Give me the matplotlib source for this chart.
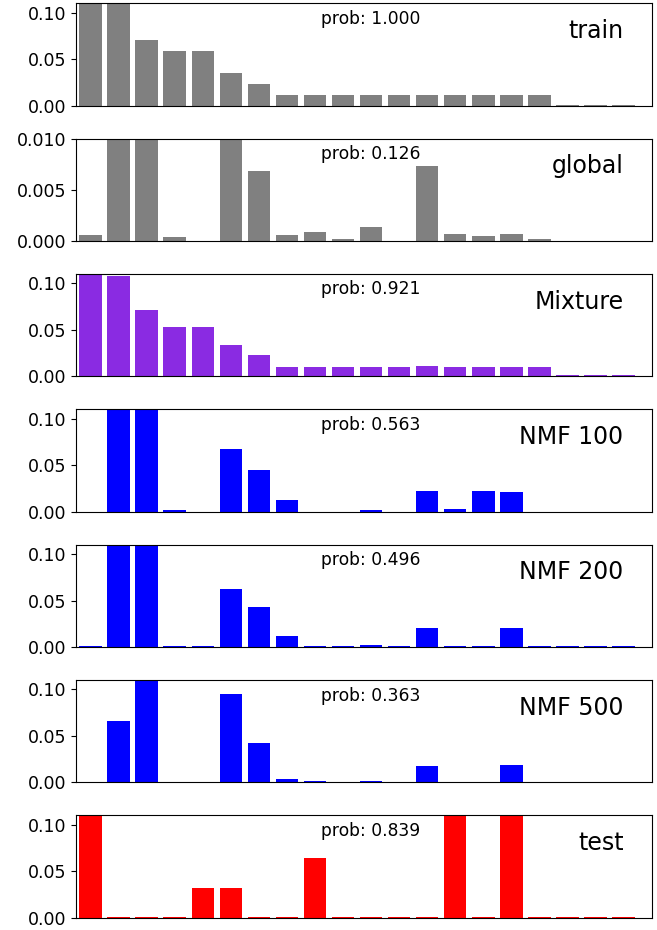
import matplotlib
matplotlib.use("Agg")
import matplotlib.pyplot as plt
import numpy as np

# 20 categories per panel
positions = np.arange(20)

train = [0.35, 0.28, 0.0702, 0.0585, 0.0585, 0.0351, 0.0234, 0.0117, 0.0117, 0.0117,
         0.0117, 0.0117, 0.0117, 0.0117, 0.0117, 0.0117, 0.0117, 0.0006, 0.0006, 0.0006]
global_ = [0.00058, 0.05, 0.04, 0.00039, 0.0, 0.03, 0.0068, 0.00058, 0.00087, 0.0002,
           0.00136, 0.0, 0.00728, 0.00068, 0.00049, 0.00068, 0.0002, 0.0, 0.0, 0.0]
mixture = [0.30, 0.1079, 0.0714, 0.0532, 0.0532, 0.0339, 0.0225, 0.0104, 0.0104, 0.0104,
           0.0104, 0.0104, 0.0114, 0.0104, 0.0104, 0.0104, 0.0104, 0.0009, 0.0009, 0.0009]
nmf100 = [0.0, 0.22, 0.24, 0.0014, 0.0, 0.0674, 0.045, 0.012, 0.0, 0.0,
          0.0014, 0.0, 0.0227, 0.0025, 0.0227, 0.0216, 0.0, 0.0, 0.0, 0.0]
nmf200 = [0.0008, 0.23, 0.25, 0.0008, 0.0008, 0.0625, 0.0432, 0.0121, 0.0008, 0.0008,
          0.0025, 0.0008, 0.0207, 0.0008, 0.0008, 0.0207, 0.0008, 0.0008, 0.0008, 0.0008]
nmf500 = [0.0, 0.0655, 0.28, 0.0, 0.0, 0.0954, 0.042, 0.0036, 0.0014, 0.0,
          0.0014, 0.0, 0.0174, 0.0, 0.0, 0.0185, 0.0, 0.0, 0.0, 0.0]
test = [0.2903, 0.0008, 0.0008, 0.0008, 0.0323, 0.0323, 0.0008, 0.0008, 0.0645, 0.0008,
        0.0008, 0.0008, 0.0008, 0.1613, 0.0008, 0.2581, 0.0008, 0.0008, 0.0008, 0.0008]

series = [train, global_, mixture, nmf100, nmf200, nmf500, test]
names = ["train", "global", "Mixture", "NMF 100", "NMF 200", "NMF 500", "test"]
probs = [1.000, 0.126, 0.921, 0.563, 0.496, 0.363, 0.839]
colors = ["gray", "gray", "blueviolet", "blue", "blue", "blue", "red"]

fig, axes = plt.subplots(7, 1, figsize=(6.57, 9.30), dpi=100)
fig.subplots_adjust(left=0.1164, right=0.9919, top=0.9965, bottom=0.0132, hspace=0.3236)

for ax, vals, name, p, c in zip(axes, series, names, probs, colors):
    ax.bar(positions, vals, width=0.8, color=c)
    ax.set_xlim(-0.5, 20)
    ax.set_xticks([])
    if name == "global":
        ax.set_ylim(0, 0.01)
        ax.set_yticks([0, 0.005, 0.010])
        ax.set_yticklabels(["0.000", "0.005", "0.010"])
    else:
        ax.set_ylim(0, 0.11)
        ax.set_yticks([0, 0.05, 0.10])
        ax.set_yticklabels(["0.00", "0.05", "0.10"])
    ax.tick_params(axis="y", labelsize=12.5)
    tr = ax.get_xaxis_transform()
    ax.text(10, 0.80, f"prob: {p:.3f}", transform=tr, ha="center", va="baseline", fontsize=12.3)
    ax.text(19, 0.66, name, transform=tr, ha="right", va="baseline", fontsize=17)

plt.savefig("out.png", dpi=100)
plt.close()
